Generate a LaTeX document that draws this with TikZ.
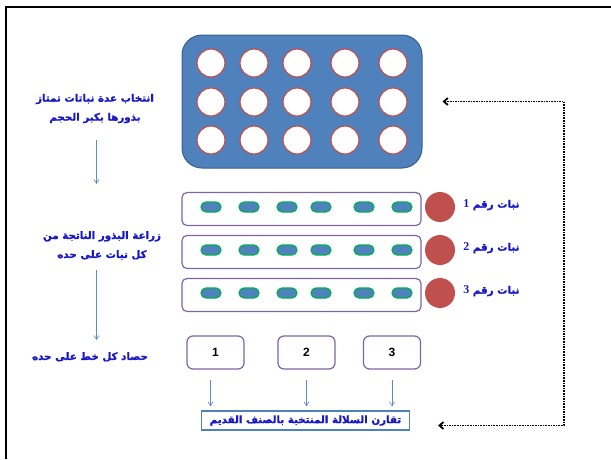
\documentclass[tikz,border=0pt]{standalone}
\usepackage{fontspec}
\usetikzlibrary{arrows.meta}
\TeXXeTstate=1
\newfontfamily\arabicfont[Script=Arabic, BoldFont={DejaVu Sans Bold}, BoldFeatures={FakeBold=1.5}]{DejaVu Sans}
\newfontfamily\numfont{Liberation Sans}
\newfontfamily\tagfont{Liberation Serif}
\definecolor{trayblue}{HTML}{4F81BD}
\definecolor{trayedge}{HTML}{385D8A}
\definecolor{seedred}{HTML}{C0504D}
\definecolor{rowpurple}{HTML}{8064A2}
\definecolor{podgreen}{HTML}{00B050}
\definecolor{txtblue}{RGB}{25,25,200}
\definecolor{flowblue}{HTML}{5B8BC9}
\tikzset{
	tray/.style={draw=trayedge, fill=trayblue, line width=1pt, rounded corners=20pt, minimum width=240pt, minimum height=133pt},
	seed/.style={circle, draw=seedred, fill=white, line width=1.2pt, minimum size=28pt, inner sep=0pt},
	rowbox/.style={draw=rowpurple, line width=1.2pt, rounded corners=5pt, minimum width=239pt, minimum height=33pt},
	pod/.style={draw=podgreen, fill=trayblue, line width=1.2pt, rounded corners=5pt, minimum width=20pt, minimum height=10pt, inner sep=0pt},
	plant/.style={circle, fill=seedred, minimum size=30pt, inner sep=0pt},
	numbox/.style={draw=rowpurple, line width=1.2pt, rounded corners=6pt, minimum width=57pt, minimum height=33pt, font=\numfont\bfseries\fontsize{12}{14}\selectfont},
	cmpbox/.style={draw=trayblue, line width=1.2pt, minimum width=208pt, minimum height=19pt, inner sep=0pt, text=txtblue, font=\arabicfont\bfseries\fontsize{10.3}{12}\selectfont},
	note/.style={align=center, text=txtblue, font=\arabicfont\bfseries\fontsize{10.3}{19}\selectfont},
	tag/.style={anchor=east, text=txtblue, font=\arabicfont\bfseries\fontsize{10.3}{12}\selectfont},
	flow/.style={-{Straight Barb[length=4pt,width=5pt]}, draw=flowblue, line width=0.6pt},
	feedback/.style={{Straight Barb[length=4pt,width=7pt]}-{Straight Barb[length=4pt,width=7pt]}, line width=1.8pt, dash pattern=on 1.6pt off 1pt},
}
\begin{document}
\begin{tikzpicture}[x=1pt,y=-1pt]
	\useasboundingbox (0,0) rectangle (611,459);
	\draw[line width=1.6pt] (6,459) -- (6,7) -- (611,7);
	
	% seed tray
	\node[tray] (tray) at (302,101.5) {};
	\foreach \x [count=\i] in {211,254,297,345,393}{
		\foreach \y [count=\j] in {63,102,140}{
			\node[seed] (s\i\j) at (\x,\y) {};
		}
	}
	
	% one row per plant
	\foreach \y/\n in {209/1, 252/2, 295/3}{
		\node[rowbox] (row\n) at (301.5,\y) {};
		\foreach \x [count=\k] in {211,249,287,321,364,402}{
			\node[pod] (p\n\k) at (\x,\y-2) {};
		}
		\node[plant] (plant\n) at (440,\y-2) {};
		\node[tag] (tag\n) at (523,\y-4) {\beginR نبات رقم {\tagfont\fontsize{12}{12}\selectfont\n}\endR};
	}
	
	% harvest boxes
	\foreach \x/\n in {215.5/1, 306.5/2, 392/3}{
		\node[numbox] (num\n) at (\x,352.5) {\n};
	}
	\node[cmpbox] (cmp) at (305.5,420.5) {\beginR تقارن السلالة المنتخبة بالصنف القديم\endR};
	\foreach \n/\d in {1/-5, 2/0, 3/0}{
		\draw[flow, shorten <=10pt, shorten >=4pt] ([xshift=\d pt]num\n.south) -- ([xshift=\d pt]num\n.south |- cmp.north);
	}
	
	% steps on the left
	\node[note] (step1) at (95,108.5) {\beginR انتخاب عدة نباتات تمتاز\endR\\\beginR بذورها بكبر الحجم\endR};
	\node[note] (step2) at (102,245.5) {\beginR زراعة البذور الناتجة من\endR\\\beginR كل نبات على حده\endR};
	\node[note] (step3) at (90,357) {\beginR حصاد كل خط على حده\endR};
	\draw[flow] (96.5,140) -- (96.5,184);
	\draw[flow] (96.5,270) -- (96.5,340);
	
	\draw[feedback] ([xshift=20pt]tray.east) -- (564,101.5) |- ([xshift=28pt,yshift=-5pt]cmp.east);
\end{tikzpicture}
\end{document}
